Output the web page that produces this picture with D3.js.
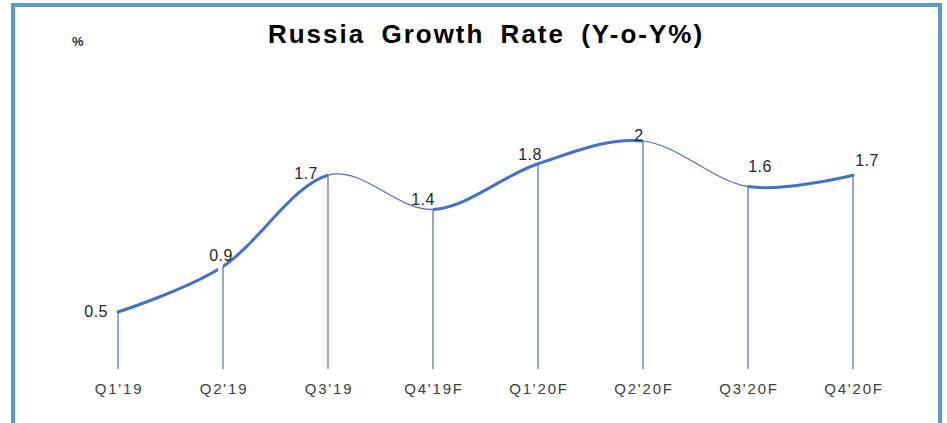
<!DOCTYPE html>
<html>
<head>
<meta charset="utf-8">
<script src="https://cdn.jsdelivr.net/npm/d3@7/dist/d3.min.js"></script>
<style>
  body { margin: 0; background: #fff; }
  svg { display: block; font-family: "Liberation Sans", Arial, sans-serif; }
</style>
</head>
<body>
<div id="viz"></div>
<script>
// data
var quarters = ["Q1'19", "Q2'19", "Q3'19", "Q4'19F", "Q1'20F", "Q2'20F", "Q3'20F", "Q4'20F"];
var growth = [0.5, 0.9, 1.7, 1.4, 1.8, 2, 1.6, 1.7];
var valueLabels = ["0.5", "0.9", "1.7", "1.4", "1.8", "2", "1.6", "1.7"];

var width = 947;
var height = 423;

// label nudges (Excel placed them a bit irregularly)
var labelNudge = [[-10, 5, "end"], [-2, -5, "middle"], [-10, 4, "end"], [-10, -4, "middle"],
                  [-8, -4, "middle"], [-4, 0, "middle"], [12, -15, "middle"], [14, -9, "middle"]];
// the smoothed line changes weight between segments in the original
var segWidth = [3, 3, 1.2, 3, 3, 1.2, 3];

var svg = d3.select('#viz')
  .append('svg')
  .attr('width', width)
  .attr('height', height);

// frame
svg.append('rect')
  .attr('x', 13)
  .attr('y', 5)
  .attr('width', 927)
  .attr('height', 440)
  .attr('fill', 'none')
  .attr('stroke', '#5b9bd5')
  .attr('stroke-width', 4);

svg.append('text')
  .attr('x', 486)
  .attr('y', 43)
  .attr('text-anchor', 'middle')
  .attr('font-size', 26)
  .attr('font-weight', 'bold')
  .attr('letter-spacing', 2)
  .attr('word-spacing', 7)
  .attr('fill', '#000')
  .text('Russia Growth Rate (Y-o-Y%)');

svg.append('text')
  .attr('x', 72)
  .attr('y', 46)
  .attr('font-size', 13)
  .attr('font-weight', 'bold')
  .attr('fill', '#333')
  .text('%');

var x = d3.scalePoint()
  .domain(quarters)
  .range([118, 853]);

var y = d3.scaleLinear()
  .domain([0, 2])
  .range([369, 141]);

var pts = quarters.map(function(q, i){ return {q: q, v: growth[i]}; });

// drop lines
svg.append('g')
  .selectAll('line')
  .data(pts)
  .join('line')
  .attr('x1', d => x(d.q))
  .attr('x2', d => x(d.q))
  .attr('y1', d => y(d.v))
  .attr('y2', y(0))
  .attr('stroke', '#4472c4')
  .attr('stroke-width', 1.2);

var line = d3.line()
  .x(d => x(d.q))
  .y(d => y(d.v))
  .curve(d3.curveCardinal.tension(0));

var defs = svg.append('defs');
segWidth.forEach(function(w, i){
  var x0 = x(quarters[i]), x1 = x(quarters[i + 1]);
  defs.append('clipPath')
    .attr('id', 'seg' + i)
    .append('rect')
    .attr('x', i === 0 ? x0 - 5 : x0)
    .attr('y', 0)
    .attr('width', (x1 - x0) + (i === segWidth.length - 1 ? 5 : 0))
    .attr('height', height);
  svg.append('path')
    .datum(pts)
    .attr('d', line)
    .attr('fill', 'none')
    .attr('stroke', '#4472c4')
    .attr('stroke-width', w)
    .attr('stroke-linecap', 'round')
    .attr('clip-path', 'url(#seg' + i + ')');
});

// value labels
svg.append('g')
  .selectAll('text')
  .data(pts)
  .join('text')
  .attr('x', (d, i) => x(d.q) + labelNudge[i][0])
  .attr('y', (d, i) => y(d.v) + labelNudge[i][1])
  .attr('text-anchor', (d, i) => labelNudge[i][2])
  .attr('font-size', 16)
  .attr('letter-spacing', 0.5)
  .attr('fill', '#262626')
  .text((d, i) => valueLabels[i]);

// category axis labels
svg.append('g')
  .selectAll('text')
  .data(quarters)
  .join('text')
  .attr('x', d => x(d) + 1)
  .attr('y', 394)
  .attr('text-anchor', 'middle')
  .attr('font-size', 15)
  .attr('letter-spacing', 1.8)
  .attr('fill', '#404040')
  .text(d => d);
</script>
</body>
</html>
